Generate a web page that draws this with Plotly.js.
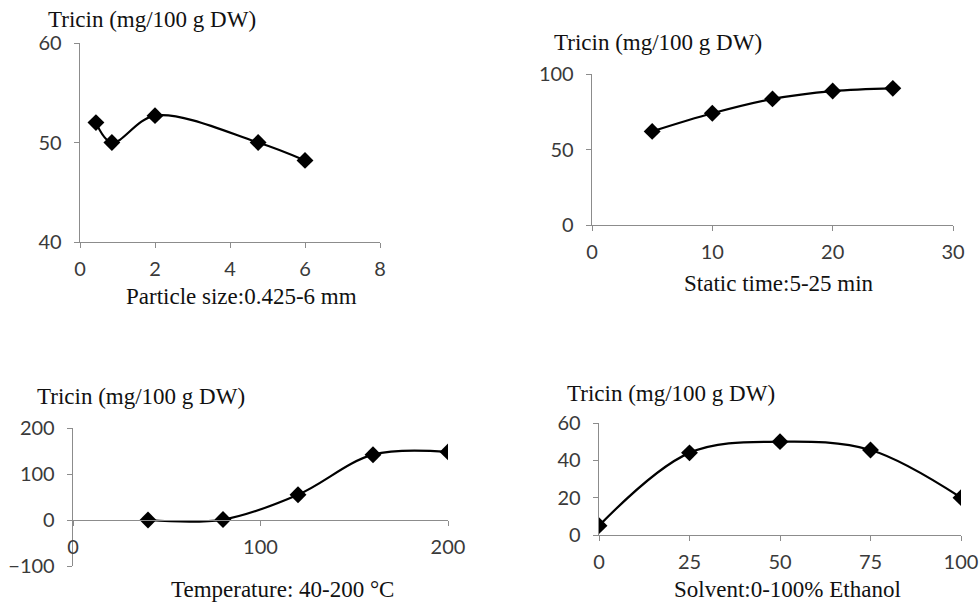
<!DOCTYPE html>
<html>
<head>
<meta charset="utf-8">
<script src="https://cdn.plot.ly/plotly-3.0.1.min.js"></script>
<style>html,body{margin:0;padding:0;background:#fff;}#chart{width:980px;height:602px;}</style>
</head>
<body>
<div id="chart"></div>
<script>
// Panel data
const particleSize = [0.425, 0.85, 2, 4.75, 6];
const tricinParticle = [52, 50, 52.7, 50, 48.2];

const staticTime = [5, 10, 15, 20, 25];
const tricinStatic = [62, 74, 83.5, 88.7, 90.5];

const temperature = [40, 80, 120, 160, 200];
const tricinTemp = [0, 1, 55, 142, 148];

const ethanol = [0, 25, 50, 75, 100];
const tricinSolvent = [5, 44, 50, 45.5, 20];

const yTitle = "Tricin (mg/100 g DW)";
const xTitles = ["Particle size:0.425-6 mm", "Static time:5-25 min", "Temperature: 40-200 °C", "Solvent:0-100% Ethanol"];

const W = 980, H = 602;
const fx = p => p / W;
const fy = p => 1 - p / H;

const lineStyle = {color: '#000', width: 2.2, shape: 'spline', smoothing: 1};
const markerStyle = {symbol: 'diamond', size: 13, color: '#000'};

function tr(x, y, n) {
  return {x: x, y: y, xaxis: 'x' + (n === 1 ? '' : n), yaxis: 'y' + (n === 1 ? '' : n),
    mode: 'lines+markers', line: lineStyle, marker: markerStyle, showlegend: false, hoverinfo: 'x+y'};
}

const data = [
  tr(particleSize, tricinParticle, 1),
  tr(staticTime, tricinStatic, 2),
  tr(temperature, tricinTemp, 3),
  tr(ethanol, tricinSolvent, 4)
];

const tickFont = {family: 'Lato, "Open Sans", sans-serif', size: 20, color: '#3a3a3a'};
const axisColor = '#8c8c8c';

function xa(dom, range, dtick, anchor, extra) {
  return Object.assign({domain: dom, range: range, dtick: dtick, tick0: 0, anchor: anchor,
    showline: true, linecolor: axisColor, linewidth: 1.3, ticks: 'outside', ticklen: 5, tickcolor: axisColor,
    showgrid: false, zeroline: false, tickfont: tickFont, ticklabelstandoff: 4, ticklabeloverflow: 'allow',
    fixedrange: true}, extra || {});
}
function ya(dom, range, dtick, anchor) {
  return {domain: dom, range: range, dtick: dtick, tick0: 0, anchor: anchor,
    showline: true, linecolor: axisColor, linewidth: 1.3, ticks: 'outside', ticklen: 5, tickcolor: axisColor,
    showgrid: false, zeroline: false, tickfont: tickFont, ticklabelstandoff: 8, ticklabeloverflow: 'allow',
    fixedrange: true};
}

const d1x = [fx(80), fx(380)], d1y = [fy(242), fy(43)];
const d2x = [fx(592), fx(953)], d2y = [fy(225), fy(74)];
const d3x = [fx(73), fx(448)], d3y = [fy(566), fy(428)];
const d4x = [fx(599), fx(961)], d4y = [fy(535), fy(423)];
const r3 = [-100, 200];
const zeroPos3 = d3y[0] + (0 - r3[0]) / (r3[1] - r3[0]) * (d3y[1] - d3y[0]);

const serif = {family: '"Liberation Serif", "Times New Roman", serif', size: 23, color: '#111'};

function ann(text, xp, yp, xanchor) {
  return {text: text, xref: 'paper', yref: 'paper', x: fx(xp), y: fy(yp), xanchor: xanchor, yanchor: 'middle',
    showarrow: false, font: serif};
}

const layout = {
  width: W, height: H,
  margin: {l: 0, r: 0, t: 0, b: 0},
  paper_bgcolor: '#fff', plot_bgcolor: 'rgba(0,0,0,0)',
  xaxis: xa(d1x, [0, 8], 2, 'y'),
  yaxis: ya(d1y, [40, 60], 10, 'x'),
  xaxis2: xa(d2x, [0, 30], 10, 'y2'),
  yaxis2: ya(d2y, [0, 100], 50, 'x2'),
  xaxis3: xa(d3x, [0, 200], 100, 'free', {position: zeroPos3}),
  yaxis3: ya(d3y, r3, 100, 'x3'),
  xaxis4: xa(d4x, [0, 100], 25, 'y4'),
  yaxis4: ya(d4y, [0, 60], 20, 'x4'),
  annotations: [
    ann(yTitle, 46, 20, 'left'),
    ann(yTitle, 552, 42, 'left'),
    ann(yTitle, 35, 396, 'left'),
    ann(yTitle, 565, 393, 'left'),
    ann(xTitles[0], 241, 296, 'center'),
    ann(xTitles[1], 779, 283, 'center'),
    ann(xTitles[2], 282, 589, 'center'),
    ann(xTitles[3], 787, 589, 'center')
  ]
};

Plotly.newPlot('chart', data, layout, {displayModeBar: false, staticPlot: true});
</script>
</body>
</html>
